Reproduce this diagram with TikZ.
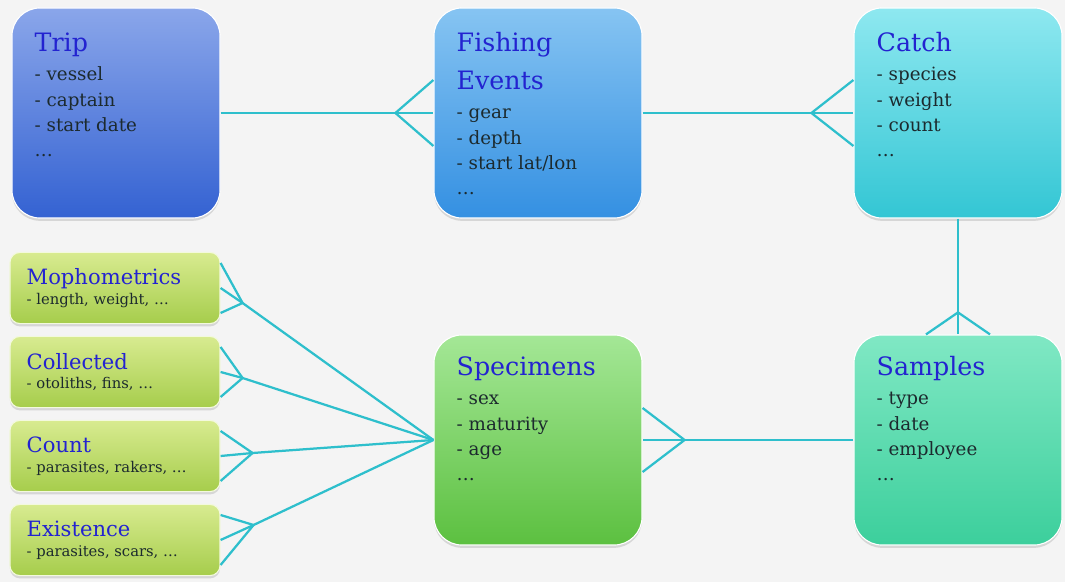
\documentclass[tikz,border=0pt]{standalone}
\usepackage{fontspec}
\setmainfont{DejaVu Serif}
\usetikzlibrary{calc,shadows,positioning}

\definecolor{titleblue}{HTML}{2323D0}
\definecolor{attrtext}{HTML}{1C2A2E}
\definecolor{linkcyan}{HTML}{2EBFCC}
\definecolor{bggray}{HTML}{F4F4F4}
\definecolor{triptop}{HTML}{8AA6EA}
\definecolor{tripbot}{HTML}{3462D2}
\definecolor{fishtop}{HTML}{86C4F2}
\definecolor{fishbot}{HTML}{3490E2}
\definecolor{catchtop}{HTML}{8EE8F0}
\definecolor{catchbot}{HTML}{33C6D4}
\definecolor{samptop}{HTML}{80E8C4}
\definecolor{sampbot}{HTML}{3CCF9C}
\definecolor{spectop}{HTML}{A4E796}
\definecolor{specbot}{HTML}{5CC040}
\definecolor{detailtop}{HTML}{D8EB90}
\definecolor{detailbot}{HTML}{A6CD4C}

\tikzset{
  entity/.style={rounded corners=0.7cm, minimum width=5.2cm, minimum height=5.25cm,
    draw=white, line width=0.8pt, inner sep=0pt,
    drop shadow={opacity=0.25, shadow xshift=0pt, shadow yshift=-2pt}},
  detail/.style={rounded corners=0.25cm, minimum width=5.25cm, minimum height=1.78cm,
    draw=white!70!detailtop, line width=0.8pt, inner sep=0pt,
    top color=detailtop, bottom color=detailbot,
    drop shadow={opacity=0.25, shadow xshift=0pt, shadow yshift=-2pt}},
  ename/.style={inner sep=0pt, anchor=north west, align=left, text=titleblue,
    font=\fontsize{18}{27}\selectfont},
  eattr/.style={inner sep=0pt, anchor=north west, align=left, text=attrtext,
    font=\fontsize{13}{18}\selectfont},
  dtext/.style={inner sep=0pt, anchor=west, align=left, text=attrtext,
    font=\fontsize{10.5}{14}\selectfont},
  link/.style={draw=linkcyan, line width=1.6pt},
}

\begin{document}
\begin{tikzpicture}[x=0.025cm, y=-0.025cm]
    \useasboundingbox (0,0) rectangle (1065,582);
    \fill[bggray] (0,0) rectangle (1065,582);

    % entity boxes
    \node[entity, top color=triptop, bottom color=tripbot] (trip) at (116,113) {};
    \node[entity, top color=fishtop, bottom color=fishbot] (fish) at (538,113) {};
    \node[entity, top color=catchtop, bottom color=catchbot] (catch) at (958,113) {};
    \node[entity, top color=spectop, bottom color=specbot] (spec) at (538,440) {};
    \node[entity, top color=samptop, bottom color=sampbot] (samples) at (958,440) {};

    % measurement boxes
    \node[detail] (morph) at (115,288) {};
    \node[detail] (coll) at (115,372) {};
    \node[detail] (count) at (115,456) {};
    \node[detail] (exist) at (115,540) {};

    % texts
    \node[ename] (tripname) at ($(trip.north west)+(23,17)$) {\strut Trip};
    \node[eattr] (tripattr) at (tripname.south west) {\strut - vessel\\- captain\\- start date\\\dots\strut};

    \node[ename] (fishname) at ($(fish.north west)+(23,17)$) {\strut Fishing\\Events\strut};
    \node[eattr] (fishattr) at (fishname.south west) {\strut - gear\\- depth\\- start lat/lon\\\dots\strut};

    \node[ename] (catchname) at ($(catch.north west)+(23,17)$) {\strut Catch};
    \node[eattr] (catchattr) at (catchname.south west) {\strut - species\\- weight\\- count\\\dots\strut};

    \node[ename] (specname) at ($(spec.north west)+(23,14)$) {\strut Specimens};
    \node[eattr] (specattr) at (specname.south west) {\strut - sex\\- maturity\\- age\\\dots\strut};

    \node[ename] (sampname) at ($(samples.north west)+(23,14)$) {\strut Samples};
    \node[eattr] (sampattr) at (sampname.south west) {\strut - type\\- date\\- employee\\\dots\strut};

    \node[dtext] (morphtext) at ($(morph.west)+(17,0)$) {{\color{titleblue}\fontsize{15}{14}\selectfont Mophometrics}\\- length, weight, \dots};
    \node[dtext] (colltext) at ($(coll.west)+(17,0)$) {{\color{titleblue}\fontsize{15}{14}\selectfont Collected}\\- otoliths, fins, \dots};
    \node[dtext] (counttext) at ($(count.west)+(17,0)$) {{\color{titleblue}\fontsize{15}{14}\selectfont Count}\\- parasites, rakers, \dots};
    \node[dtext] (existtext) at ($(exist.west)+(17,0)$) {{\color{titleblue}\fontsize{15}{14}\selectfont Existence}\\- parasites, scars, \dots};

    % one-to-many links
    \draw[link] (trip.east) -- ($(fish.west)+(-38,0)$) coordinate (fishfoot) -- (fish.west);
    \draw[link] ($(fish.west)+(0,-33)$) -- (fishfoot) -- ($(fish.west)+(0,33)$);

    \draw[link] (fish.east) -- ($(catch.west)+(-42,0)$) coordinate (catchfoot) -- (catch.west);
    \draw[link] ($(catch.west)+(0,-33)$) -- (catchfoot) -- ($(catch.west)+(0,33)$);

    \draw[link] (catch.south) -- ($(samples.north)+(0,-22)$) coordinate (sampfoot) -- (samples.north);
    \draw[link] ($(samples.north)+(-32,0)$) -- (sampfoot) -- ($(samples.north)+(32,0)$);

    \draw[link] (samples.west) -- ($(spec.east)+(42,0)$) coordinate (specfoot) -- (spec.east);
    \draw[link] ($(spec.east)+(0,-32)$) -- (specfoot) -- ($(spec.east)+(0,32)$);

    \foreach \d/\fx/\fy in {morph/22/15, coll/22/6, count/32/-3, exist/33/-15}{
      \coordinate (\d-foot) at ($(\d.east)+(\fx,\fy)$);
      \draw[link] (spec.west) -- (\d-foot) -- (\d.east);
      \draw[link] ($(\d.east)+(0,-25)$) -- (\d-foot) -- ($(\d.east)+(0,25)$);
    }
\end{tikzpicture}
\end{document}
